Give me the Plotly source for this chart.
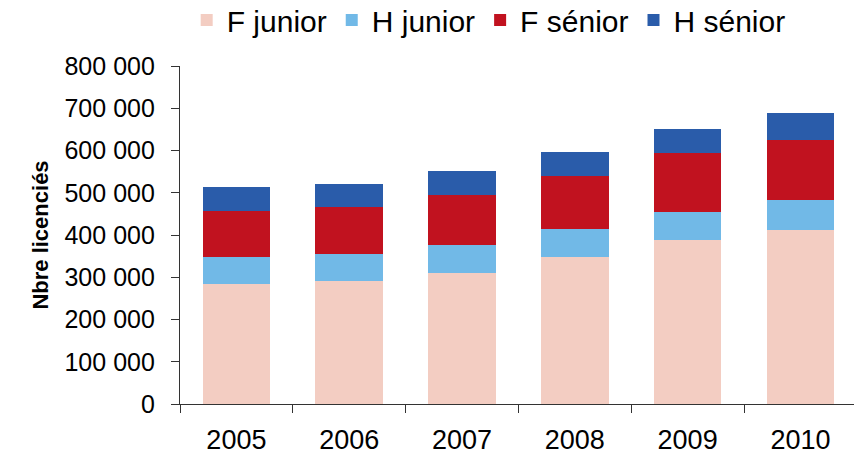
import plotly.graph_objects as go

years = ["2005", "2006", "2007", "2008", "2009", "2010"]
f_junior = [284000, 291000, 310000, 348000, 388000, 412000]
h_junior = [64000, 64000, 66000, 66000, 67000, 71000]
f_senior = [109000, 112000, 119000, 126000, 138000, 143000]
h_senior = [57000, 54000, 57000, 57000, 57000, 62000]

series = [
    ("F junior", f_junior, "#F3CDC2"),
    ("H junior", h_junior, "#71B9E7"),
    ("F sénior", f_senior, "#C1121F"),
    ("H sénior", h_senior, "#2A5CAA"),
]

y_tickvals = [0, 100000, 200000, 300000, 400000, 500000, 600000, 700000, 800000]
y_ticktext = ["0", "100 000", "200 000", "300 000", "400 000", "500 000",
              "600 000", "700 000", "800 000"]

fig = go.Figure()
for name, vals, col in series:
    fig.add_trace(go.Bar(x=years, y=vals, name=name, marker_color=col,
                         marker_line_width=0))

font_family = "Liberation Sans, Arial, sans-serif"
fig.update_layout(
    width=854, height=454,
    margin=dict(l=180, r=0, t=66, b=50, autoexpand=False),
    barmode="stack", bargap=0.4,
    plot_bgcolor="white", paper_bgcolor="white",
    font=dict(family=font_family, color="black"),
    showlegend=True,
    legend=dict(orientation="h", x=0.458, xanchor="center", y=1.213, yanchor="top",
                font=dict(size=30, family=font_family, color="black"),
                bgcolor="rgba(0,0,0,0)",
                traceorder="normal", itemwidth=30, tracegroupgap=0),
)
fig.update_xaxes(
    type="category", range=[-0.5, 5.475], automargin=False,
    showline=True, linecolor="#333333", linewidth=1.3,
    ticks="outside", tickson="boundaries", ticklen=8, tickcolor="#333333",
    tickfont=dict(size=27), showgrid=False, ticklabelstandoff=11,
)
fig.update_yaxes(
    range=[0, 800000], tickvals=y_tickvals, ticktext=y_ticktext, automargin=False,
    showline=True, linecolor="#333333", linewidth=1.3,
    ticks="outside", ticklen=8, tickcolor="#333333",
    tickfont=dict(size=25), showgrid=False, zeroline=False,
    ticklabelstandoff=11,
    title=dict(text="<b>Nbre licenciés</b>", font=dict(size=22), standoff=9),
)

fig.write_html("out.html", config={"displayModeBar": False},
               post_script="document.body.style.margin='0';document.body.style.padding='0';")
